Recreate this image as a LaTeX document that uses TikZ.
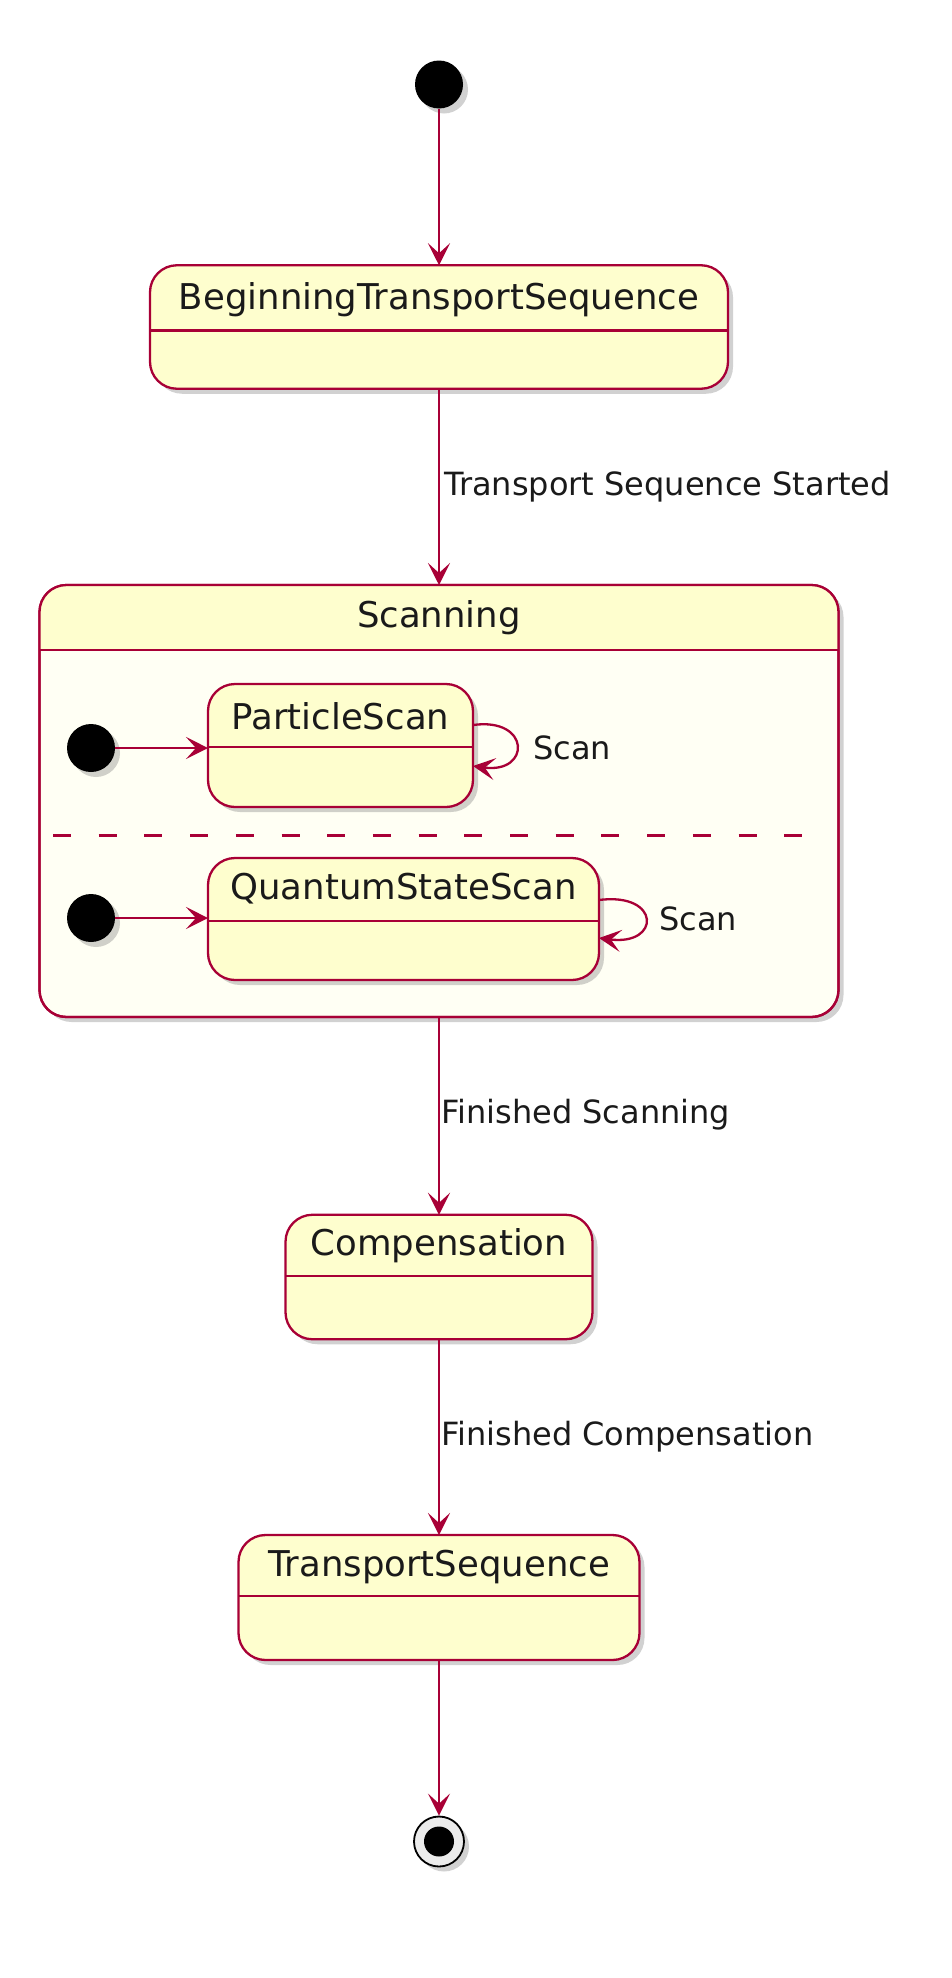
\documentclass[tikz,border=0pt]{standalone}
\usepackage{fontspec}
\setmainfont{DejaVu Sans}
\usetikzlibrary{arrows.meta,shadows}
\definecolor{umlred}{HTML}{A80036}
\definecolor{umlfill}{HTML}{FEFECE}
\definecolor{bodyfill}{HTML}{FFFFF4}
\definecolor{txt}{HTML}{1A1A1A}
\tikzset{
  shad/.style={drop shadow={shadow xshift=5pt,shadow yshift=-5pt,opacity=0.3,fill=black!60}},
  statebox/.style={draw=umlred,fill=umlfill,line width=2.3pt,rounded corners=27pt,shad,inner sep=0pt,outer sep=0pt},
  divider/.style={draw=umlred,line width=2.3pt},
  sname/.style={font=\fontsize{35.5}{40}\selectfont,inner sep=0pt,text=txt},
  lbl/.style={font=\fontsize{32}{36}\selectfont,inner sep=0pt,text=txt,anchor=west},
  arr/.style={draw=umlred,line width=2.3pt,-{Stealth[length=22pt,width=22pt,inset=10pt]}},
  startdot/.style={circle,fill=black,minimum size=48pt,inner sep=0pt,shad},
}
\begin{document}
\begin{tikzpicture}[x=1pt,y=-1pt]
\useasboundingbox (0,0) rectangle (951,1978);
% initial
\node[startdot] (start) at (439,84.5) {};
% BeginningTransportSequence
\node[statebox,minimum width=578pt,minimum height=123.5pt] (bts) at (439,327) {};
\draw[divider] (bts.west |- 0,330.5) -- (bts.east |- 0,330.5);
\node[sname] (btst) at (439,300) {BeginningTransportSequence};
% Scanning composite
\node[statebox,fill=bodyfill,minimum width=799pt,minimum height=432pt] (scan) at (439,801) {};
\begin{scope}
  \clip[rounded corners=27pt] (scan.north west) rectangle (scan.south east);
  \fill[umlfill] (scan.north west) rectangle (scan.east |- 0,650);
\end{scope}
\draw[draw=umlred,line width=2.3pt,rounded corners=27pt] (scan.north west) rectangle (scan.south east);
\draw[divider] (scan.west |- 0,650) -- (scan.east |- 0,650);
\node[sname] (scant) at (439,618) {Scanning};
\draw[umlred,line width=3pt,dash pattern=on 18pt off 27.7pt] (53,835) -- (802,835);
% ParticleScan
\node[startdot] (s1) at (91,748) {};
\node[statebox,minimum width=265pt,minimum height=123pt] (ps) at (340.5,745.5) {};
\draw[divider] (ps.west |- 0,747) -- (ps.east |- 0,747);
\node[sname] (pst) at (340.5,716) {ParticleScan};
% QuantumStateScan
\node[startdot] (s2) at (91,918) {};
\node[statebox,minimum width=391pt,minimum height=122pt] (qss) at (403.5,919) {};
\draw[divider] (qss.west |- 0,921) -- (qss.east |- 0,921);
\node[sname] (qsst) at (403.5,889) {QuantumStateScan};
% Compensation
\node[statebox,minimum width=307pt,minimum height=124.5pt] (comp) at (439,1277) {};
\draw[divider] (comp.west |- 0,1276) -- (comp.east |- 0,1276);
\node[sname] (compt) at (439,1246) {Compensation};
% TransportSequence
\node[statebox,minimum width=401pt,minimum height=125pt] (ts) at (439,1597.5) {};
\draw[divider] (ts.west |- 0,1596) -- (ts.east |- 0,1596);
\node[sname] (tst) at (439,1566.5) {TransportSequence};
% final
\node[circle,draw=black,fill=black!8,line width=1.8pt,minimum size=50pt,inner sep=0pt,shad] (end) at (439,1841.5) {};
\node[circle,fill=black,minimum size=30pt,inner sep=0pt] (endin) at (end.center) {};
% connectors
\draw[arr] (start) -- (bts.north);
\draw[arr] (bts.south) -- (scan.north);
\node[lbl] (l1) at (444,487) {Transport Sequence Started};
\draw[arr] (s1) -- (ps.west |- s1);
\draw[arr] (s2) -- (qss.west |- s2);
\draw[arr] ([yshift=20.5pt]ps.east) .. controls +(58pt,8pt) and +(58pt,-8pt) .. ([yshift=-20.5pt]ps.east);
\node[lbl] (l2) at (533,748) {Scan};
\draw[arr] ([yshift=19pt]qss.east) .. controls +(62pt,8pt) and +(62pt,-8pt) .. ([yshift=-19pt]qss.east);
\node[lbl] (l3) at (659,919) {Scan};
\draw[arr] (scan.south) -- (comp.north);
\node[lbl] (l4) at (441,1115) {Finished Scanning};
\draw[arr] (comp.south) -- (ts.north);
\node[lbl] (l5) at (441,1437) {Finished Compensation};
\draw[arr] (ts.south) -- (end.north);
\end{tikzpicture}
\end{document}
